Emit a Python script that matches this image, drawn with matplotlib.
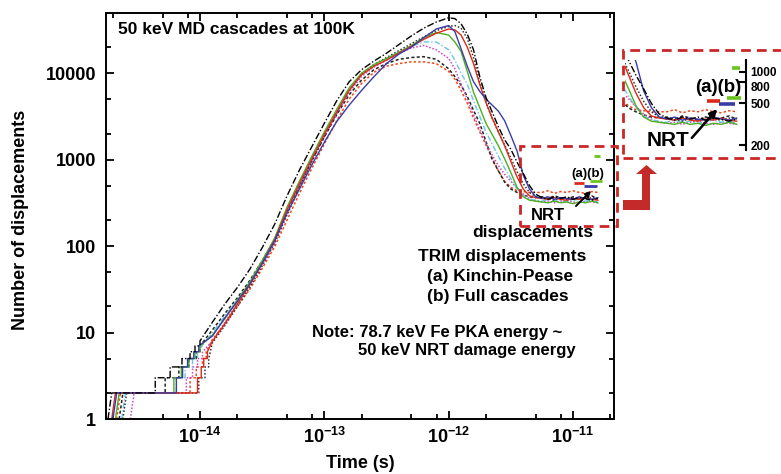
import numpy as np
import matplotlib
matplotlib.use('Agg')
import matplotlib.pyplot as plt
from matplotlib.patches import Rectangle, Polygon, FancyArrowPatch
from matplotlib.ticker import LogLocator, NullFormatter, FixedLocator, FuncFormatter

plt.rcParams['font.family'] = ['Liberation Sans', 'DejaVu Sans']
plt.rcParams['font.weight'] = 'bold'
plt.rcParams['mathtext.fontset'] = 'custom'
plt.rcParams['mathtext.rm'] = 'Liberation Sans:bold'
plt.rcParams['mathtext.bf'] = 'Liberation Sans:bold'
plt.rcParams['mathtext.it'] = 'Liberation Sans:bold'
plt.rcParams['axes.linewidth'] = 1.4

# ---- data (log10 of time in s, log10 of number of displacements) ----
logt_grid = [-13.9, -13.8, -13.7, -13.6, -13.5, -13.4, -13.3, -13.2, -13.1, -13.0,
             -12.9, -12.8, -12.7, -12.6, -12.5, -12.4, -12.3, -12.2, -12.1, -12.0,
             -11.95, -11.9, -11.85, -11.8, -11.75, -11.7, -11.65, -11.6, -11.55, -11.5,
             -11.45, -11.4, -11.35, -11.3]
logt_plateau = [-11.25, -11.2, -11.15, -11.1, -11.05, -11.0, -10.95, -10.9, -10.85, -10.8]

# black dash-dot
k_dd_start = -14.74
k_dd_steps = [-14.71, -14.36, -14.24, -14.145, -14.08, -14.04, -14.0]
k_dd_rise = [1.12, 1.33, 1.52, 1.73, 1.98, 2.25, 2.58, 2.88, 3.15, 3.42,
             3.68, 3.90, 4.04, 4.14, 4.23, 4.33, 4.43, 4.52, 4.59, 4.64,
             4.63, 4.57, 4.45, 4.27, 3.96, 3.72, 3.55, 3.38, 3.23, 3.12,
             2.97, 2.84, 2.70, 2.60]
k_dd_plat = [2.56, 2.54, 2.57, 2.55, 2.57, 2.54, 2.56, 2.55, 2.53, 2.55]

# blue solid
blue_start = -14.70
blue_steps = [-14.67, -14.19, -14.14, -14.10, -14.05, -14.01]
blue_rise = [0.96, 1.17, 1.36, 1.56, 1.80, 2.06, 2.38, 2.66, 2.94, 3.20,
             3.44, 3.63, 3.80, 3.96, 4.11, 4.22, 4.30, 4.41, 4.51, 4.55,
             4.48, 4.28, 4.08, 3.90, 3.79, 3.70, 3.63, 3.56, 3.45, 3.28,
             3.10, 2.82, 2.66, 2.57]
blue_plat = [2.55, 2.57, 2.54, 2.56, 2.55, 2.54, 2.57, 2.55, 2.54, 2.56]

# red solid
red_start = -14.71
red_steps = [-14.68, -14.02, -13.99, -13.97, -13.94]
red_rise = [0.90, 1.10, 1.33, 1.55, 1.80, 2.07, 2.42, 2.72, 3.01, 3.29,
            3.55, 3.80, 3.98, 4.08, 4.15, 4.23, 4.31, 4.39, 4.46, 4.51,
            4.50, 4.44, 4.30, 4.11, 3.87, 3.66, 3.48, 3.32, 3.16, 2.98,
            2.80, 2.66, 2.58, 2.56]
red_plat = [2.55, 2.54, 2.56, 2.54, 2.53, 2.55, 2.54, 2.56, 2.54, 2.53]

# green solid
green_start = -14.68
green_steps = [-14.65, -14.21, -14.15, -14.09, -14.04, -14.0]
green_rise = [0.97, 1.16, 1.37, 1.58, 1.83, 2.09, 2.45, 2.75, 3.04, 3.32,
              3.58, 3.83, 4.00, 4.10, 4.17, 4.24, 4.32, 4.41, 4.47, 4.44,
              4.36, 4.25, 4.02, 3.78, 3.60, 3.42, 3.29, 3.16, 3.01, 2.85,
              2.68, 2.57, 2.53, 2.52]
green_plat = [2.51, 2.50, 2.52, 2.50, 2.51, 2.49, 2.51, 2.50, 2.52, 2.50]

# cyan dash-dot
cyan_start = -14.63
cyan_steps = [-14.60, -14.19, -14.12, -14.06, -14.02]
cyan_rise = [1.00, 1.19, 1.38, 1.58, 1.83, 2.08, 2.43, 2.73, 3.02, 3.30,
             3.56, 3.81, 3.98, 4.08, 4.16, 4.24, 4.31, 4.36, 4.36, 4.27,
             4.15, 4.00, 3.87, 3.68, 3.50, 3.32, 3.18, 3.04, 2.90, 2.78,
             2.66, 2.58, 2.54, 2.53]
cyan_plat = [2.52, 2.54, 2.52, 2.53, 2.51, 2.53, 2.54, 2.52, 2.53, 2.51]

# magenta dotted
mag_start = -14.56
mag_steps = [-14.53, -14.11, -14.06, -14.02, -13.98]
mag_rise = [0.90, 1.12, 1.33, 1.54, 1.79, 2.04, 2.38, 2.69, 2.99, 3.27,
            3.53, 3.78, 3.96, 4.07, 4.15, 4.23, 4.29, 4.32, 4.27, 4.17,
            4.05, 3.87, 3.70, 3.52, 3.35, 3.19, 3.05, 2.93, 2.83, 2.75,
            2.67, 2.60, 2.55, 2.52]
mag_plat = [2.51, 2.52, 2.50, 2.52, 2.53, 2.51, 2.50, 2.52, 2.51, 2.50]

# black dotted
k_dot_start = -14.62
k_dot_steps = [-14.59, -14.01, -13.96, -13.93]
k_dot_rise = [0.88, 1.08, 1.30, 1.52, 1.77, 2.03, 2.36, 2.68, 2.98, 3.27,
              3.54, 3.80, 3.99, 4.10, 4.18, 4.26, 4.34, 4.42, 4.49, 4.54,
              4.55, 4.52, 4.40, 4.18, 3.90, 3.66, 3.48, 3.32, 3.17, 3.02,
              2.86, 2.72, 2.62, 2.57]
k_dot_plat = [2.56, 2.55, 2.53, 2.56, 2.54, 2.57, 2.55, 2.54, 2.56, 2.55]

# black dashed (low peak)
k_dash_start = -14.65
k_dash_steps = [-14.62, -14.28, -14.17, -14.09, -14.03, -14.0]
k_dash_rise = [1.03, 1.22, 1.40, 1.60, 1.83, 2.07, 2.40, 2.70, 2.99, 3.26,
               3.52, 3.75, 3.92, 4.04, 4.11, 4.16, 4.18, 4.19, 4.16, 4.05,
               3.96, 3.86, 3.73, 3.57, 3.42, 3.21, 3.00, 2.87, 2.74, 2.66,
               2.62, 2.59, 2.57, 2.56]
k_dash_plat = [2.57, 2.55, 2.58, 2.56, 2.54, 2.57, 2.55, 2.56, 2.58, 2.55]

# red dotted (low peak)
r_dot_start = -14.67
r_dot_steps = [-14.64, -14.08, -14.03, -13.98, -13.95]
r_dot_rise = [0.92, 1.10, 1.30, 1.50, 1.74, 1.99, 2.30, 2.61, 2.90, 3.18,
              3.45, 3.70, 3.88, 4.01, 4.08, 4.11, 4.13, 4.13, 4.11, 4.02,
              3.93, 3.80, 3.65, 3.48, 3.32, 3.17, 3.02, 2.87, 2.75, 2.68,
              2.64, 2.63, 2.62, 2.62]
r_dot_plat = [2.62, 2.64, 2.61, 2.63, 2.62, 2.64, 2.62, 2.61, 2.63, 2.62]

# TRIM / NRT reference values (log10 t range, N)
trim_a_logt = [-10.99, -10.91]
trim_a_n = 530
nrt_logt = [-10.915, -10.81]
nrt_n = 490
trim_b_logt = [-10.86, -10.77]
trim_b_n = 560
trim_b2_logt = [-10.83, -10.78]
trim_b2_n = 1100

curves = [
    (r_dot_start, r_dot_steps, r_dot_rise, r_dot_plat, dict(color='#ee4a1a', ls=(0, (1.6, 1.4)), lw=1.1)),
    (k_dash_start, k_dash_steps, k_dash_rise, k_dash_plat, dict(color='#222222', ls=(0, (2.0, 1.5)), lw=1.1)),
    (mag_start, mag_steps, mag_rise, mag_plat, dict(color='#cc44cc', ls=(0, (1, 1.2)), lw=1.1)),
    (cyan_start, cyan_steps, cyan_rise, cyan_plat, dict(color='#6cc6dc', ls=(0, (4, 1.5, 1, 1.5)), lw=1.0)),
    (k_dot_start, k_dot_steps, k_dot_rise, k_dot_plat, dict(color='#333333', ls=(0, (1, 1.3)), lw=1.1)),
    (green_start, green_steps, green_rise, green_plat, dict(color='#4caf22', ls='-', lw=1.0)),
    (red_start, red_steps, red_rise, red_plat, dict(color='#dd2a18', ls='-', lw=1.0)),
    (blue_start, blue_steps, blue_rise, blue_plat, dict(color='#3b3ba8', ls='-', lw=1.0)),
    (k_dd_start, k_dd_steps, k_dd_rise, k_dd_plat, dict(color='black', ls=(0, (5, 1.5, 1, 1.5)), lw=1.0)),
]


def build(start, steps, rise, plat):
    lt = [start, steps[0]]
    n = [1, 2]
    for k, s in enumerate(steps[1:]):
        lt += [s, s]
        n += [k + 2, k + 3]
    lt += logt_grid + logt_plateau
    n += [10 ** v for v in rise + plat]
    return 10 ** np.array(lt), np.array(n, float)


W, H = 781, 474
fig = plt.figure(figsize=(W / 100, H / 100), dpi=100)


def fx(px):
    return px / W


def fy(py):
    return 1 - py / H


ax = fig.add_axes([fx(106), fy(419), fx(614) - fx(106), fy(13) - fy(419)])
axi = fig.add_axes([fx(625), fy(150), fx(746) - fx(625), fy(60) - fy(150)])

for a in (ax, axi):
    for start, steps, rise, plat, st in curves:
        t, n = build(start, steps, rise, plat)
        a.plot(t, n, **st)
    a.set_xscale('log')
    a.set_yscale('log')

# TRIM and NRT markers
for a, lw in ((ax, 2.0), (axi, 2.6)):
    a.plot(10 ** np.array(trim_a_logt), [trim_a_n] * 2, color='#dd2a18', lw=lw, solid_capstyle='butt')
    a.plot(10 ** np.array(nrt_logt), [nrt_n] * 2, color='#3b3ba8', lw=lw, solid_capstyle='butt')
    a.plot(10 ** np.array(trim_b_logt), [trim_b_n] * 2, color='#6cc21e', lw=lw, solid_capstyle='butt')
    a.plot(10 ** np.array(trim_b2_logt), [trim_b2_n] * 2, color='#6cc21e', lw=lw, solid_capstyle='butt')

# main axes
ax.set_xlim(10 ** -14.756, 10 ** -10.67)
ax.set_ylim(1, 10 ** 4.695)
ax.xaxis.set_major_locator(FixedLocator([1e-14, 1e-13, 1e-12, 1e-11]))
ax.xaxis.set_minor_locator(LogLocator(base=10, subs=(2, 5, 8), numticks=20))
ax.xaxis.set_major_formatter(FuncFormatter(lambda v, _: r'$10^{%d}$' % round(np.log10(v))))
ax.xaxis.set_minor_formatter(NullFormatter())
ax.yaxis.set_major_locator(FixedLocator([1, 10, 100, 1000, 10000]))
ax.yaxis.set_minor_locator(LogLocator(base=10, subs=(2, 5), numticks=20))
ax.yaxis.set_major_formatter(FuncFormatter(lambda v, _: '%d' % round(v)))
ax.yaxis.set_minor_formatter(NullFormatter())
ax.tick_params(which='both', direction='in', top=True, right=True, width=1.3)
ax.tick_params(which='major', length=6, labelsize=13)
ax.tick_params(which='minor', length=3.5)
ax.tick_params(axis='y', pad=7)
ax.tick_params(axis='x', pad=6)

# inset axes (zoom on the plateau)
axi.set_xlim(10 ** -11.52, 10 ** -10.74)
axi.set_ylim(180, 1300)
axi.patch.set_alpha(0)
for s in ('left', 'top', 'bottom'):
    axi.spines[s].set_visible(False)
axi.spines['right'].set_linewidth(1.5)
axi.set_xticks([])
axi.xaxis.set_minor_locator(FixedLocator([]))
axi.yaxis.tick_right()
axi.yaxis.set_major_locator(FixedLocator([200, 500, 800, 1000]))
axi.yaxis.set_minor_locator(FixedLocator([]))
axi.yaxis.set_major_formatter(FuncFormatter(lambda v, _: '%d' % round(v)))
axi.tick_params(axis='y', which='major', direction='in', length=5, width=1.5, labelsize=8.5, pad=3)
fig.canvas.draw()
for lab in axi.get_yticklabels():
    if lab.get_text() == '800':
        lab.set_va('top')

# texts
tk = dict(fontweight='bold', color='black')
fig.text(fx(118), fy(30), '50 keV MD cascades at 100K', fontsize=12.5, ha='left', va='center', **tk)
fig.text(fx(588), fy(174), '(a)(b)', fontsize=9.5, ha='center', va='center', **tk)
fig.text(fx(548), fy(215), 'NRT', fontsize=12, ha='center', va='center', **tk)
fig.text(fx(533), fy(232), 'displacements', fontsize=12.5, ha='center', va='center', **tk)
fig.text(fx(502), fy(257), 'TRIM displacements', fontsize=12.5, ha='center', va='center', **tk)
fig.text(fx(500), fy(276), '(a) Kinchin-Pease', fontsize=12.5, ha='center', va='center', **tk)
fig.text(fx(498), fy(296), '(b) Full cascades', fontsize=12.5, ha='center', va='center', **tk)
fig.text(fx(312), fy(333), 'Note: 78.7 keV Fe PKA energy ~', fontsize=12, ha='left', va='center', **tk)
fig.text(fx(358), fy(351), '50 keV NRT damage energy', fontsize=12, ha='left', va='center', **tk)
fig.text(fx(718), fy(88), '(a)(b)', fontsize=13.5, ha='center', va='center', **tk)
fig.text(fx(668), fy(140), 'NRT', fontsize=15, ha='center', va='center', **tk)
fig.text(fx(21), fy(220), 'Number of displacements', fontsize=13, rotation=90, ha='center', va='center', **tk)
fig.text(fx(360), fy(463), 'Time (s)', fontsize=13, ha='center', va='center', **tk)

# black arrows to NRT lines
fig.add_artist(FancyArrowPatch((fx(574), fy(208)), (fx(593), fy(189)), transform=fig.transFigure,
                               arrowstyle='-|>', mutation_scale=8, lw=1.4, color='black'))
fig.add_artist(FancyArrowPatch((fx(690), fy(140)), (fx(719), fy(107)), transform=fig.transFigure,
                               arrowstyle='-|>', mutation_scale=11, lw=1.8, color='black'))

# red dashed boxes and L-shaped arrow
red = '#cc2626'
fig.add_artist(Rectangle((fx(520), fy(226)), fx(617) - fx(520), fy(146) - fy(226), transform=fig.transFigure,
                         fill=False, ec=red, lw=2.0, ls=(0, (3.5, 2.2))))
fig.add_artist(Rectangle((fx(623), fy(158)), fx(800) - fx(623), fy(50) - fy(158), transform=fig.transFigure,
                         fill=False, ec=red, lw=2.0, ls=(0, (3.5, 2.2))))
arrow_px = [(623, 200), (642, 200), (642, 174), (636, 174), (646.5, 165), (657, 174),
            (650, 174), (650, 210), (623, 210)]
fig.add_artist(Polygon([(fx(x), fy(y)) for x, y in arrow_px], closed=True, transform=fig.transFigure,
                       fc='#c42a2a', ec='none'))

fig.savefig('out.png', dpi=100)
